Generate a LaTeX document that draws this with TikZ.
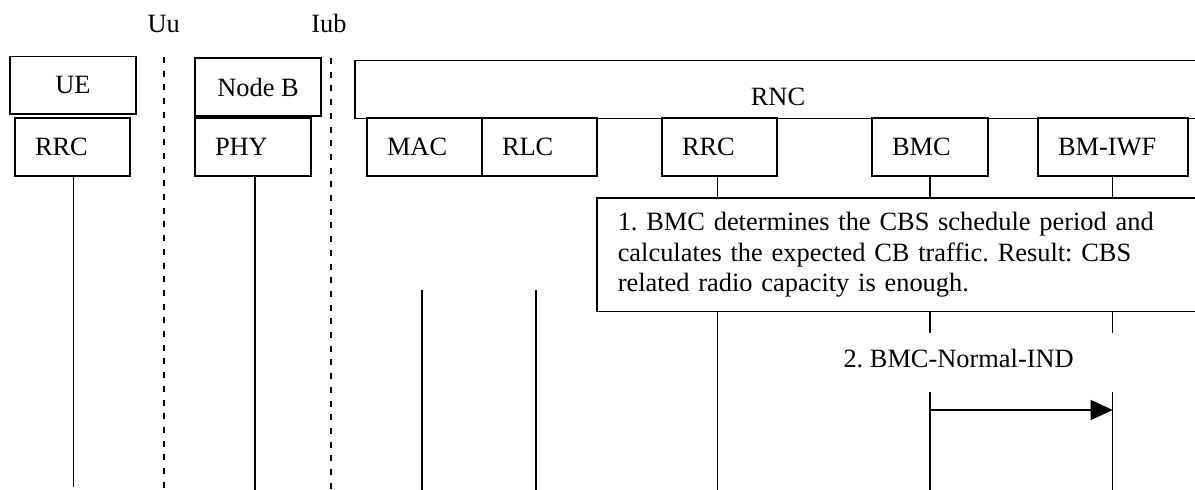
\documentclass[tikz,border=0pt]{standalone}
\usepackage{fontspec}
\setmainfont{Liberation Serif}
\usetikzlibrary{arrows.meta}
\frenchspacing
\begin{document}
\begin{tikzpicture}[x=1pt,y=-1pt,
  every node/.style={font=\fontsize{26.4}{30.7}\selectfont},
  entity/.style={draw, line width=1.5pt, rectangle, inner sep=0pt, minimum height=58pt},
  lbox/.style={entity, align=left, inner xsep=20pt, text width=#1},
  life/.style={line width=1.3pt},
  iface/.style={line width=2pt, dash pattern=on 6pt off 7.7pt},
  msg/.style={line width=1.3pt, -{Triangle[length=22pt,width=20pt]}},
  note/.style={draw, fill=white, line width=1.5pt, align=left, inner xsep=21pt, inner ysep=0pt,
    text width=578pt, minimum height=113.4pt, anchor=north west}
]
\useasboundingbox (0,0) rectangle (1195,490);
\clip (0,0) rectangle (1195,490);

% interface labels and dashed lines
\node[anchor=base] (uu) at (163.8,32) {Uu};
\node[anchor=base] (iub) at (329,32) {Iub};
\coordinate (uuTop) at (163.7,57);
\coordinate (uuBot) at (163.7,490);
\coordinate (iubTop) at (331,58);
\coordinate (iubBot) at (331,490);
\draw[iface] (uuTop) -- (uuBot);
\draw[iface] (iubTop) -- (iubBot);

% entities
\node[entity, minimum width=126pt, minimum height=57.3pt] (ue) at (73,85.35) {UE};
\node[lbox=75pt] (rrcA) at (72.5,147) {RRC};
\node[entity, minimum width=126pt] (nodeb) at (258,87) {Node B};
\node[lbox=76pt] (phy) at (253,147) {PHY};
\node[entity, minimum width=846pt, minimum height=57.6pt, text height=31.5pt, text depth=0pt] (rnc) at (778,89.5) {RNC};
\node[lbox=75pt] (mac) at (424.5,147) {MAC};
\node[lbox=75pt] (rlc) at (539.5,147) {RLC};
\node[lbox=75pt] (rrcB) at (719.5,147) {RRC};
\node[lbox=76pt] (bmc) at (930,147) {BMC};
\node[lbox=110pt] (iwf) at (1113,147) {BM-IWF};

% lifeline end points
\coordinate (eUE) at (73.3,487);
\coordinate (ePHY) at (255,490);
\coordinate (eMAC) at (422,490);
\coordinate (eRLC) at (536,490);
\coordinate (eRRC) at (717.7,490);
\coordinate (eBMC) at (930,490);
\coordinate (eIWF) at (1112.7,490);
\coordinate (lowStart) at (0,290);
\coordinate (gapTop) at (0,333.3);
\coordinate (gapBot) at (0,391.7);
\coordinate (arrowY) at (0,410);

% lifelines
\draw[life] (eUE |- rrcA.south) -- (eUE);
\draw[life] (ePHY |- phy.south) -- (ePHY);
\draw[life] (eMAC |- lowStart) -- (eMAC);
\draw[life] (eRLC |- lowStart) -- (eRLC);
\draw[life] (eRRC |- rrcB.south) -- (eRRC);
\draw[life] (eBMC |- bmc.south) -- (eBMC |- gapTop);
\draw[life] (eBMC |- gapBot) -- (eBMC);
\draw[life] (eIWF |- iwf.south) -- (eIWF |- gapTop);
\draw[life] (eIWF |- gapBot) -- (eIWF);

% step 1 note
\node[note] (step1) at (596,197.3) {1. BMC determines the CBS schedule period and\\calculates the expected CB traffic. Result: CBS\\related radio capacity is enough.};

% step 2 message
\node[anchor=base west, inner sep=0pt] (m2) at (843.3,367.7) {2. BMC-Normal-IND};
\draw[msg] (eBMC |- arrowY) -- (eIWF |- arrowY);
\end{tikzpicture}
\end{document}
